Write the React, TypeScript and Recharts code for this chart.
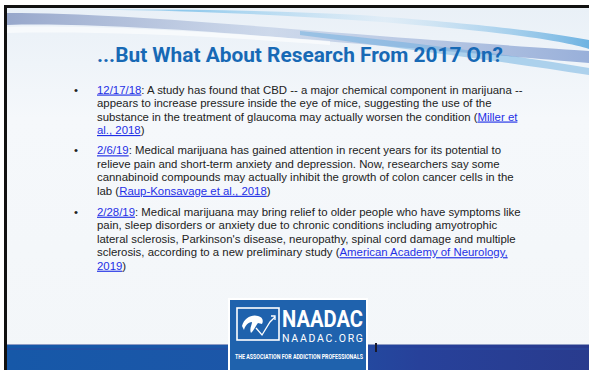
import React from "react";
import { ComposedChart, Customized } from "recharts";

const W = 589;
const H = 370;

const titleText = "...But What About Research From 2017 On?";

type Seg = { t: string; link?: boolean };

// each bullet: its lines as they wrap on the slide
const bullet1: Seg[][] = [
  [{ t: "12/17/18", link: true }, { t: ": A study has found that CBD -- a major chemical component in marijuana --" }],
  [{ t: "appears to increase pressure inside the eye of mice, suggesting the use of the" }],
  [{ t: "substance in the treatment of glaucoma may actually worsen the condition (" }, { t: "Miller et", link: true }],
  [{ t: "al., 2018", link: true }, { t: ")" }],
];
const bullet2: Seg[][] = [
  [{ t: "2/6/19", link: true }, { t: ": Medical marijuana has gained attention in recent years for its potential to" }],
  [{ t: "relieve pain and short-term anxiety and depression. Now, researchers say some" }],
  [{ t: "cannabinoid compounds may actually inhibit the growth of colon cancer cells in the" }],
  [{ t: "lab (" }, { t: "Raup-Konsavage et al., 2018", link: true }, { t: ")" }],
];
const bullet3: Seg[][] = [
  [{ t: "2/28/19", link: true }, { t: ": Medical marijuana may bring relief to older people who have symptoms like" }],
  [{ t: "pain, sleep disorders or anxiety due to chronic conditions including amyotrophic" }],
  [{ t: "lateral sclerosis, Parkinson's disease, neuropathy, spinal cord damage and multiple" }],
  [{ t: "sclerosis, according to a new preliminary study (" }, { t: "American Academy of Neurology,", link: true }],
  [{ t: "2019", link: true }, { t: ")" }],
];
const bullets = [bullet1, bullet2, bullet3];
const bulletTops = [93.5, 154.3, 215.7];

const logoName = "NAADAC";
const logoUrl = "NAADAC.ORG";
const logoTag = "THE ASSOCIATION FOR ADDICTION PROFESSIONALS";

const LINE = 13.5;

function Slide() {
  return (
    <g>
      <defs>
        <linearGradient id="bg" x1="0" y1="0" x2="0" y2="1">
          <stop offset="0" stopColor="#e9f0f7" />
          <stop offset="0.3" stopColor="#f5f8fb" />
          <stop offset="1" stopColor="#f3f6f9" />
        </linearGradient>
        <linearGradient id="sw1" x1="0" y1="0" x2="1" y2="0">
          <stop offset="0" stopColor="#8e9fc6" stopOpacity="0.9" />
          <stop offset="0.45" stopColor="#b9c8e2" stopOpacity="0.6" />
          <stop offset="1" stopColor="#8fa8d6" stopOpacity="0.9" />
        </linearGradient>
        <linearGradient id="sw2" x1="0" y1="0" x2="1" y2="0">
          <stop offset="0" stopColor="#ffffff" stopOpacity="0" />
          <stop offset="0.3" stopColor="#6fbbe8" stopOpacity="0.75" />
          <stop offset="0.65" stopColor="#d0e6f5" stopOpacity="0.4" />
          <stop offset="1" stopColor="#4fa3dc" stopOpacity="0.8" />
        </linearGradient>
        <linearGradient id="band" x1="0" y1="0" x2="1" y2="0">
          <stop offset="0" stopColor="#1658a8" />
          <stop offset="0.45" stopColor="#1d56a8" />
          <stop offset="0.7" stopColor="#27419a" />
          <stop offset="1" stopColor="#293b8d" />
        </linearGradient>
      </defs>
      {/* frame */}
      <rect x={0} y={0} width={W} height={H} fill="#ffffff" />
      <rect x={4} y={5} width={W} height={H} fill="#111111" />
      <rect x={7} y={8} width={W} height={H} fill="url(#bg)" />
      {/* top swooshes */}
      <path d="M7 13 C 120 13, 260 27, 420 39 C 500 45, 560 49, 589 51 L 589 63 C 520 57, 420 49, 300 39 C 180 29, 80 23, 7 25 Z" fill="url(#sw1)" />
      <path d="M7 9 C 150 9, 300 13, 460 29 C 530 36, 570 43, 589 49 L 589 40 C 540 31, 470 23, 360 15 C 250 9, 120 9, 7 9 Z" fill="url(#sw2)" />
      <path d="M300 31 C 400 41, 500 53, 589 68 L 589 75 C 500 61, 420 51, 300 35 Z" fill="#6aaee0" opacity="0.5" />
      <path d="M7 27 C 90 25, 200 31, 330 41 L 330 45 C 200 35, 90 31, 7 33 Z" fill="#ffffff" opacity="0.6" />
      {/* title */}
      <text x={300} y={62} textAnchor="middle" fontFamily="Roboto" fontWeight={700} fontSize={20} fill="#1769b5" textLength={406} lengthAdjust="spacingAndGlyphs">
        {titleText}
      </text>
      {/* bullets */}
      {bullets.map((lines, bi) => (
        <g key={bi}>
          <text x={74} y={bulletTops[bi]} fontFamily="Liberation Sans, Arial" fontSize={11.4} fill="#222222">
            •
          </text>
          {lines.map((segs, li) => (
            <text
              key={li}
              x={97}
              y={bulletTops[bi] + li * LINE}
              fontFamily="Liberation Sans, Arial"
              fontSize={11.4}
              fill="#222222"
              style={{ whiteSpace: "pre" }}
            >
              {segs.map((s, si) =>
                s.link ? (
                  <tspan key={si} fill="#1f30e6" style={{ textDecoration: "underline" }}>
                    {s.t}
                  </tspan>
                ) : (
                  <tspan key={si}>{s.t}</tspan>
                )
              )}
            </text>
          ))}
        </g>
      ))}
      {/* bottom band */}
      <rect x={7} y={344} width={W} height={H - 344} fill="url(#band)" />
      <rect x={7} y={344} width={W} height={1} fill="#8f9cc4" />
      <rect x={7} y={348} width={W} height={2} fill="#2a4aa0" opacity={0.5} />
      <rect x={375} y={343} width={2} height={9} fill="#1a1a2a" />
      {/* logo */}
      <rect x={228} y={298} width={140} height={80} fill="#ffffff" />
      <rect x={230} y={300} width={136} height={78} fill="#1f62ad" />
      <rect x={237} y={308} width={42} height={32} fill="none" stroke="#ffffff" strokeWidth={1.6} />
      <path d="M242 326 C 244 318, 252 314, 258 316 C 262 317, 264 320, 262 324 L 258 323 C 256 325, 255 329, 251 333 C 249 329, 252 325, 252 322 C 248 322, 245 326, 244 330 Z" fill="#ffffff" />
      <polyline points="256,328 262,335 270,322 275,317" fill="none" stroke="#ffffff" strokeWidth={1.3} />
      <polyline points="271,316 275,316 275,320" fill="none" stroke="#ffffff" strokeWidth={1.3} />
      <text x={282} y={327} fontFamily="Roboto" fontWeight={700} fontSize={24} fill="#ffffff" textLength={81} lengthAdjust="spacingAndGlyphs">
        {logoName}
      </text>
      <text x={282} y={342} fontFamily="Roboto" fontWeight={400} fontSize={10.5} fill="#ffffff" textLength={81} lengthAdjust="spacing">
        {logoUrl}
      </text>
      <text x={235} y={359} fontFamily="Roboto" fontWeight={700} fontSize={7.5} fill="#ffffff" textLength={128} lengthAdjust="spacingAndGlyphs">
        {logoTag}
      </text>
    </g>
  );
}

export default function App() {
  return (
    <div style={{ width: W, height: H }}>
      <style>{"body{margin:0}"}</style>
      <ComposedChart width={W} height={H} data={[{ x: 0 }]} margin={{ top: 0, right: 0, bottom: 0, left: 0 }}>
        <Customized component={Slide} />
      </ComposedChart>
    </div>
  );
}
